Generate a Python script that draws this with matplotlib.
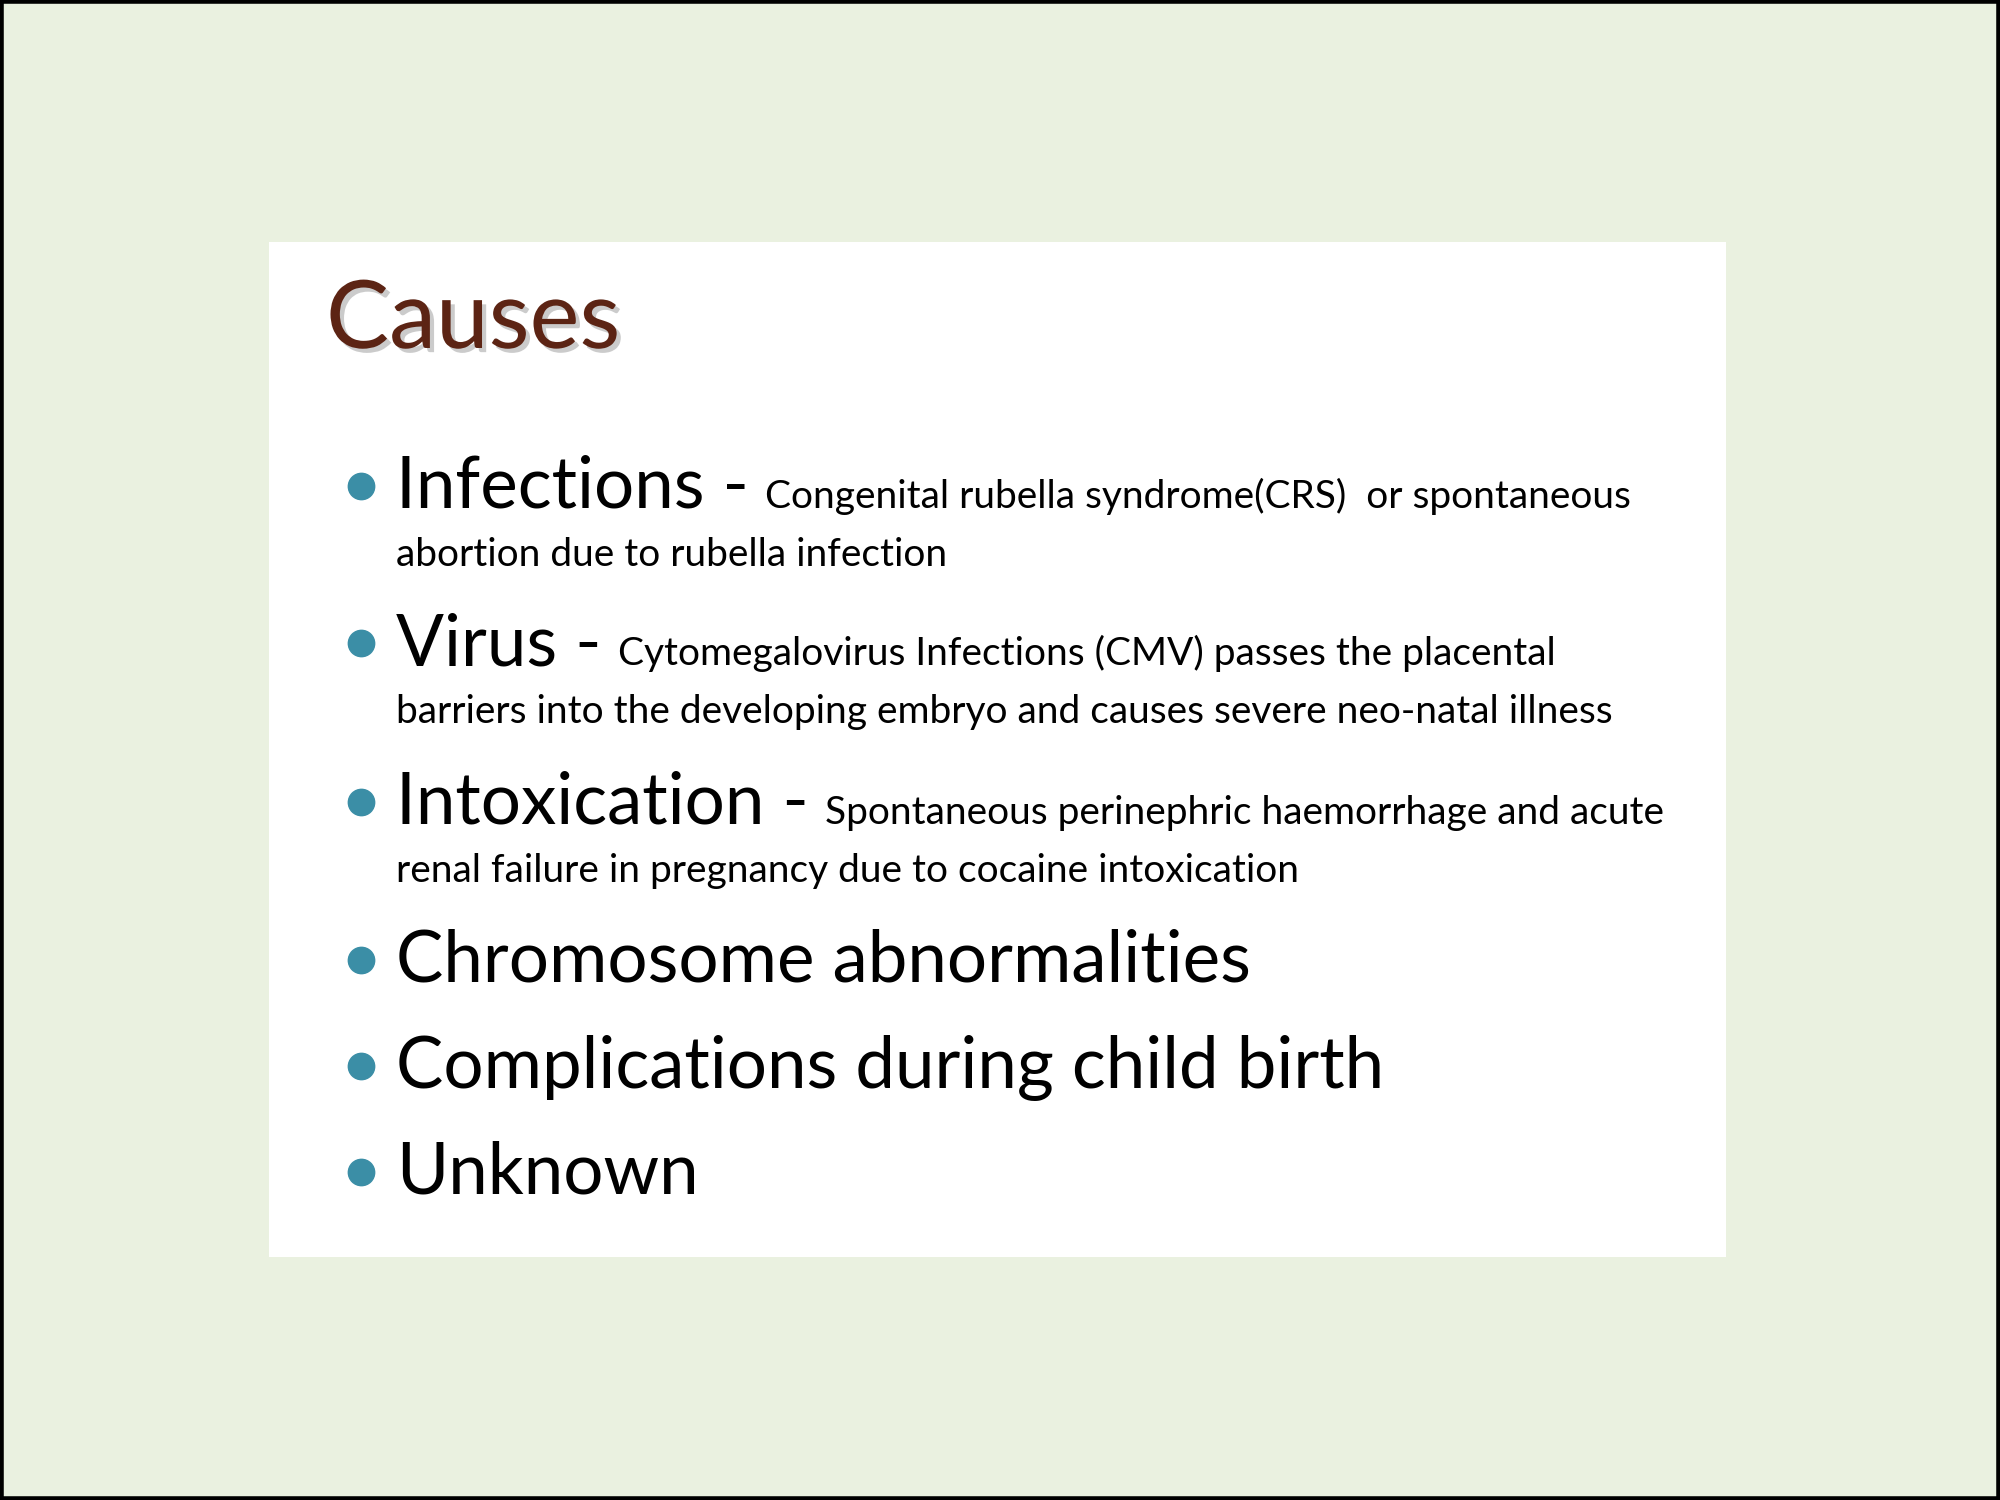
import matplotlib
matplotlib.use("Agg")
import matplotlib.pyplot as plt
import matplotlib.patheffects as pe
from matplotlib.patches import Rectangle

plt.rcParams["font.family"] = ["Lato", "DejaVu Sans"]

title = "Causes"
headings = [
    "Infections -",
    "Virus -",
    "Intoxication -",
    "Chromosome abnormalities",
    "Complications during child birth",
    "Unknown",
]
details_first = [
    "Congenital rubella syndrome(CRS)  or spontaneous",
    "Cytomegalovirus Infections (CMV) passes the placental",
    "Spontaneous perinephric haemorrhage and acute",
    "",
    "",
    "",
]
details_second = [
    "abortion due to rubella infection",
    "barriers into the developing embryo and causes severe neo-natal illness",
    "renal failure in pregnancy due to cocaine intoxication",
    "",
    "",
    "",
]
baselines = [508, 665, 824, 982, 1088, 1194]

bg_color = "#eaf1e0"
title_color = "#5c2414"
bullet_color = "#3b8ea6"

fig = plt.figure(figsize=(20, 15), dpi=100)
fig.patch.set_facecolor(bg_color)
ax = fig.add_axes([0, 0, 1, 1])
ax.set_xlim(0, 2000)
ax.set_ylim(1500, 0)
ax.axis("off")

# outer frame and white slide panel
ax.add_patch(Rectangle((1, 1), 1998, 1498, fill=False, edgecolor="black", linewidth=4))
ax.add_patch(Rectangle((269, 242), 1457, 1015, facecolor="white", edgecolor="none"))

ax.text(326, 348, title, fontsize=68, color=title_color, va="baseline",
        path_effects=[pe.SimplePatchShadow(offset=(3, -3), shadow_rgbFace="#999999", alpha=0.5),
                      pe.Normal()])

fig.canvas.draw()
renderer = fig.canvas.get_renderer()

for head, d1, d2, y in zip(headings, details_first, details_second, baselines):
    ax.scatter([361], [y - 22], s=360, color=bullet_color, zorder=3)
    t = ax.text(396, y, head, fontsize=51, color="black", va="baseline")
    if d1:
        bb = t.get_window_extent(renderer)
        x_end = ax.transData.inverted().transform((bb.x1, bb.y0))[0]
        ax.text(x_end + 16, y, d1, fontsize=28, color="black", va="baseline")
    if d2:
        ax.text(396, y + 58, d2, fontsize=28, color="black", va="baseline")

fig.savefig("out.png", dpi=100, facecolor=bg_color)
